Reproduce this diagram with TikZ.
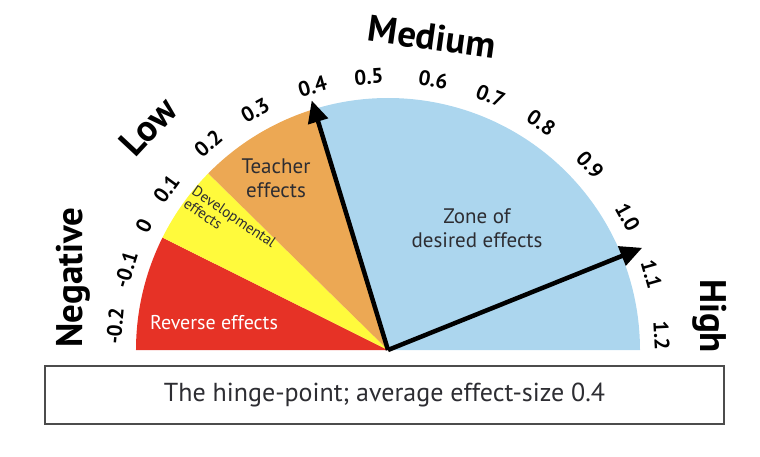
\documentclass[tikz,border=0pt]{standalone}
\usepackage{fontspec}
\setmainfont{PT Sans}
\usetikzlibrary{arrows.meta}
\definecolor{revred}{RGB}{230,50,38}
\definecolor{devyellow}{RGB}{255,250,60}
\definecolor{teachorange}{RGB}{236,168,84}
\definecolor{zoneblue}{RGB}{172,214,238}
\definecolor{inktext}{RGB}{45,45,50}
\newcommand{\rad}{252pt}

\begin{document}
\begin{tikzpicture}[
  scalenum/.style={font=\fontsize{21}{21}\selectfont\bfseries, inner sep=0pt},
  band/.style={font=\fontsize{37}{37}\selectfont\bfseries, inner sep=0pt},
  inner/.style={font=\fontsize{21}{24}\selectfont, align=center, text=inktext, inner sep=0pt},
  pointer/.style={line width=4.5pt, -{Triangle[length=22pt,width=20pt]}},
  hingebox/.style={draw=black!70, line width=2.5pt, fill=white, minimum width=679pt, minimum height=58pt,
    font=\fontsize{26}{26}\selectfont, text=inktext}]
  \useasboundingbox (-388pt,-106pt) rectangle (372pt,350pt);
  \coordinate (hub) at (0,0);
  \fill[revred] (hub) -- (180:\rad) arc[start angle=180, end angle=153.5, radius=\rad] -- cycle;
  \fill[devyellow] (hub) -- (153.5:\rad) arc[start angle=153.5, end angle=135.5, radius=\rad] -- cycle;
  \fill[teachorange] (hub) -- (135.5:\rad) arc[start angle=135.5, end angle=107, radius=\rad] -- cycle;
  \fill[zoneblue] (hub) -- (107:\rad) arc[start angle=107, end angle=0, radius=\rad] -- cycle;

  \foreach \v/\a [count=\i] in {-0.2/175, -0.1/163, 0/153, 0.1/144, 0.2/131, 0.3/119, 0.4/106, 0.5/94,
    0.6/80.5, 0.7/68, 0.8/56, 0.9/42.5, 1.0/29, 1.1/16, 1.2/3}
    \node[scalenum, rotate=\a-90] (tick\i) at (\a:274pt) {\v};

  \node[band, rotate=90] (negative) at (167:323pt) {Negative};
  \node[band, rotate=47] (low) at (137:328pt) {Low};
  \node[band, rotate=-8] (medium) at (82:316pt) {Medium};
  \node[band, rotate=-90] (high) at (6:324pt) {High};

  \node[inner, text=white, font=\fontsize{20}{20}\selectfont] (reverse) at (-174pt,27pt) {Reverse effects};
  \node[inner, font=\fontsize{15}{15}\selectfont, align=left, rotate=-34] (develop) at (-158pt,127pt) {Developmental\\effects};
  \node[inner] (teacher) at (-112pt,172pt) {Teacher\\effects};
  \node[inner] (zone) at (89pt,122pt) {Zone of\\desired effects};

  \coordinate (hinge) at (107:261pt);
  \coordinate (top) at (21.9:274pt);
  \draw[pointer] (hub) -- (hinge);
  \draw[pointer] (hub) -- (top);

  \node[hingebox] (caption) at (-3.5pt,-45pt) {The hinge-point; average effect-size 0.4};
\end{tikzpicture}
\end{document}
